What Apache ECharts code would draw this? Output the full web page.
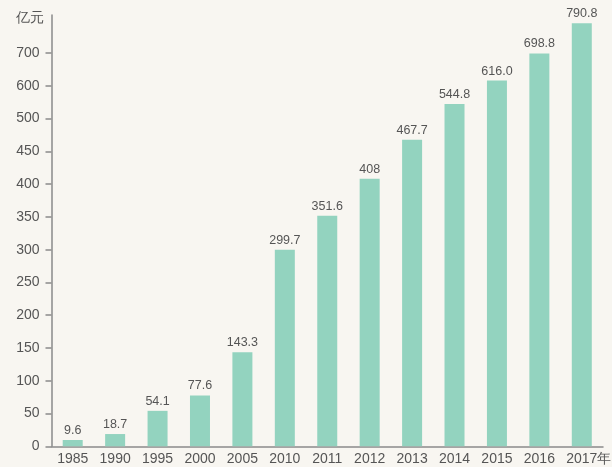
<!DOCTYPE html>
<html>
<head>
<meta charset="utf-8">
<script src="https://cdn.jsdelivr.net/npm/echarts@6/dist/echarts.min.js"></script>
<style>
html,body{margin:0;padding:0;background:#f8f6f1;overflow:hidden;}
#chart{width:100vw;height:100vh;}
</style>
</head>
<body>
<div id="chart"></div>
<script>
// Data
const years = ['1985','1990','1995','2000','2005','2010','2011','2012','2013','2014','2015','2016','2017'];
const values = [9.6, 18.7, 54.1, 77.6, 143.3, 299.7, 351.6, 408, 467.7, 544.8, 616.0, 698.8, 790.8];
const valueLabels = ['9.6','18.7','54.1','77.6','143.3','299.7','351.6','408','467.7','544.8','616.0','698.8','790.8'];
// The original y axis is not linear: ticks are equally spaced but labelled as below
const yTickLabels = [0, 50, 100, 150, 200, 250, 300, 350, 400, 450, 500, 600, 700];

function toAxis(v) {
  const t = yTickLabels;
  for (let k = 0; k < t.length - 1; k++) {
    if (v <= t[k + 1]) return k + (v - t[k]) / (t[k + 1] - t[k]);
  }
  const n = t.length - 1;
  return n + (v - t[n]) / (t[n] - t[n - 1]);
}

const tickIdx = yTickLabels.map((_, i) => i);
const font = 'Liberation Sans, Arial, sans-serif';
const chart = echarts.init(document.getElementById('chart'));
chart.setOption({
  backgroundColor: '#f8f6f1',
  animation: false,
  grid: { left: 51.5, right: 9, top: 15, bottom: 20.7, containLabel: false, outerBoundsMode: 'none' },
  xAxis: {
    type: 'category',
    data: years,
    name: '年',
    nameLocation: 'end',
    nameGap: 8,
    nameMoveOverlap: false,
    nameTextStyle: { color: '#555', fontSize: 14, fontFamily: font, align: 'right', verticalAlign: 'top', padding: [6, 0, 0, 0] },
    axisLine: { lineStyle: { color: '#8a8a8a', width: 1.5 } },
    axisTick: { inside: true, length: 6, lineStyle: { color: '#8a8a8a', width: 1.5 } },
    axisLabel: { color: '#555', fontSize: 14, fontFamily: font, margin: 6 }
  },
  yAxis: {
    type: 'value',
    min: 0,
    max: 13.16,
    name: '亿元',
    nameLocation: 'end',
    nameGap: -3,
    nameMoveOverlap: false,
    nameTextStyle: { color: '#555', fontSize: 14, fontFamily: font, align: 'right', verticalAlign: 'middle', padding: [0, 8, 0, 0] },
    axisLine: { show: true, lineStyle: { color: '#8a8a8a', width: 1.5 } },
    axisTick: { show: true, length: 6, customValues: tickIdx, lineStyle: { color: '#8a8a8a', width: 1.5 } },
    axisLabel: {
      customValues: tickIdx,
      color: '#555', fontSize: 14, fontFamily: font, margin: 12,
      formatter: v => String(yTickLabels[Math.round(v)])
    },
    splitLine: { show: false }
  },
  series: [{
    type: 'bar',
    data: values.map(toAxis),
    barWidth: 20,
    itemStyle: { color: '#93d3bf' },
    label: {
      show: true, position: 'top', distance: 3, color: '#555', fontSize: 12.5, fontFamily: font,
      formatter: p => valueLabels[p.dataIndex]
    }
  }]
});
</script>
</body>
</html>
